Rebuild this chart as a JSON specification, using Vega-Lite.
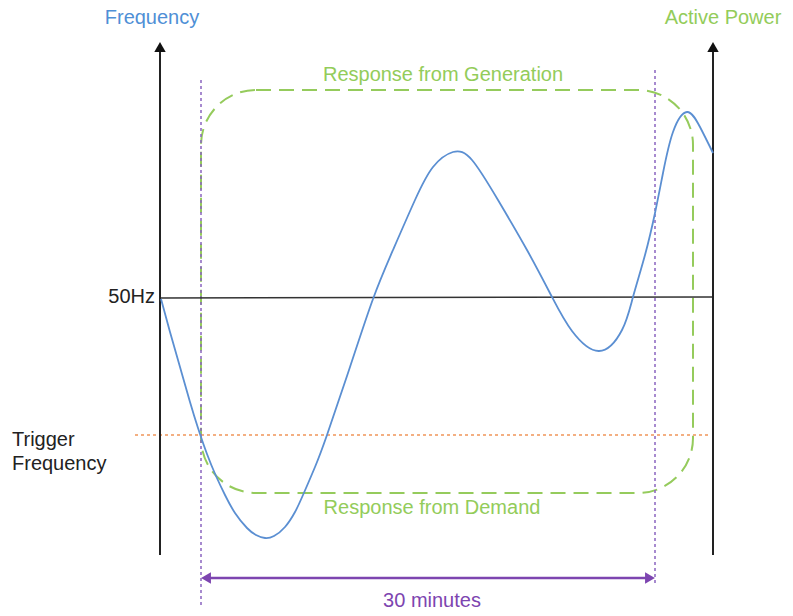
{
  "$schema": "https://vega.github.io/schema/vega-lite/v6.json",
  "width": 793,
  "height": 616,
  "autosize": {"type": "fit", "contains": "padding"},
  "padding": 0,
  "background": "white",
  "config": {"view": {"stroke": null}, "text": {"font": "Liberation Sans", "fontSize": 20}},
  "datasets": {
    "curve": [
      {"x": 161, "y": 299}, {"x": 170, "y": 332}, {"x": 180, "y": 367}, {"x": 190, "y": 402},
      {"x": 198, "y": 428}, {"x": 207, "y": 454}, {"x": 216, "y": 476}, {"x": 225, "y": 495},
      {"x": 235, "y": 513}, {"x": 247, "y": 528}, {"x": 256, "y": 535}, {"x": 265, "y": 538},
      {"x": 274, "y": 536}, {"x": 285, "y": 527}, {"x": 295, "y": 512}, {"x": 303, "y": 495},
      {"x": 315, "y": 467}, {"x": 327, "y": 435}, {"x": 350, "y": 367}, {"x": 373, "y": 299},
      {"x": 393, "y": 250}, {"x": 415, "y": 200}, {"x": 433, "y": 167}, {"x": 453, "y": 152},
      {"x": 472, "y": 160}, {"x": 498, "y": 200}, {"x": 527, "y": 250}, {"x": 552, "y": 297},
      {"x": 572, "y": 331}, {"x": 599, "y": 351}, {"x": 622, "y": 330}, {"x": 633, "y": 297},
      {"x": 645, "y": 255}, {"x": 655, "y": 213}, {"x": 663, "y": 173}, {"x": 673, "y": 132},
      {"x": 687, "y": 112}, {"x": 700, "y": 127}, {"x": 713, "y": 153}
    ],
    "box": [{"x": 201, "x2": 693, "y": 90, "y2": 493}],
    "lines": [
      {"name": "axis", "x": 160, "x2": 160, "y": 555, "y2": 50},
      {"name": "axis", "x": 713, "x2": 713, "y": 555, "y2": 50},
      {"name": "base", "x": 160, "x2": 713, "y": 298, "y2": 297},
      {"name": "trigger", "x": 135, "x2": 711, "y": 435, "y2": 435},
      {"name": "window", "x": 201, "x2": 201, "y": 80, "y2": 605},
      {"name": "window", "x": 655, "x2": 655, "y": 70, "y2": 585},
      {"name": "span", "x": 206, "x2": 650, "y": 578, "y2": 578}
    ],
    "heads": [
      {"name": "axis", "shape": "up", "x": 160, "y": 47},
      {"name": "axis", "shape": "up", "x": 713, "y": 47},
      {"name": "span", "shape": "left", "x": 206, "y": 578},
      {"name": "span", "shape": "right", "x": 650, "y": 578}
    ],
    "labels": [
      {"name": "freq", "text": "Frequency", "x": 152, "y": 18},
      {"name": "power", "text": "Active Power", "x": 723, "y": 18},
      {"name": "gen", "text": "Response from Generation", "x": 443, "y": 75},
      {"name": "dem", "text": "Response from Demand", "x": 432, "y": 508},
      {"name": "mins", "text": "30 minutes", "x": 432, "y": 601},
      {"name": "hz", "text": "50Hz", "x": 155, "y": 297},
      {"name": "trig", "text": "Trigger", "x": 12, "y": 440},
      {"name": "trig", "text": "Frequency", "x": 12, "y": 464}
    ]
  },
  "encoding": {
    "x": {"field": "x", "type": "quantitative", "scale": {"domain": [0, 793], "nice": false, "zero": false}, "axis": null},
    "y": {"field": "y", "type": "quantitative", "scale": {"domain": [0, 616], "nice": false, "zero": false, "reverse": true}, "axis": null}
  },
  "layer": [
    {
      "data": {"name": "box"},
      "mark": {"type": "rect", "cornerRadius": 55, "fill": "white", "fillOpacity": 0, "stroke": "#95cb5c", "strokeWidth": 2, "strokeDash": [15, 8]},
      "encoding": {"x2": {"field": "x2"}, "y2": {"field": "y2"}}
    },
    {
      "data": {"name": "lines"},
      "transform": [{"filter": "datum.name === 'trigger'"}],
      "mark": {"type": "rule", "stroke": "#f0955a", "strokeWidth": 1.5, "strokeDash": [3, 3]},
      "encoding": {"x2": {"field": "x2"}, "y2": {"field": "y2"}}
    },
    {
      "data": {"name": "lines"},
      "transform": [{"filter": "datum.name === 'window'"}],
      "mark": {"type": "rule", "stroke": "#8a64c0", "strokeWidth": 1.5, "strokeDash": [3, 3]},
      "encoding": {"x2": {"field": "x2"}, "y2": {"field": "y2"}}
    },
    {
      "data": {"name": "lines"},
      "transform": [{"filter": "datum.name === 'base'"}],
      "mark": {"type": "rule", "stroke": "#333333", "strokeWidth": 1.5},
      "encoding": {"x2": {"field": "x2"}, "y2": {"field": "y2"}}
    },
    {
      "data": {"name": "lines"},
      "transform": [{"filter": "datum.name === 'axis'"}],
      "mark": {"type": "rule", "stroke": "#222222", "strokeWidth": 2},
      "encoding": {"x2": {"field": "x2"}, "y2": {"field": "y2"}}
    },
    {
      "data": {"name": "lines"},
      "transform": [{"filter": "datum.name === 'span'"}],
      "mark": {"type": "rule", "stroke": "#7d45b0", "strokeWidth": 2.5},
      "encoding": {"x2": {"field": "x2"}, "y2": {"field": "y2"}}
    },
    {
      "data": {"name": "curve"},
      "mark": {"type": "line", "interpolate": "natural", "stroke": "#5b8fd2", "strokeWidth": 1.8},
      "encoding": {}
    },
    {
      "data": {"name": "heads"},
      "transform": [{"filter": "datum.name === 'axis'"}],
      "mark": {"type": "point", "shape": "triangle-up", "filled": true, "color": "#111111", "size": 130, "opacity": 1}
    },
    {
      "data": {"name": "heads"},
      "transform": [{"filter": "datum.shape === 'left'"}],
      "mark": {"type": "point", "shape": "triangle-left", "filled": true, "color": "#7d45b0", "size": 130, "opacity": 1}
    },
    {
      "data": {"name": "heads"},
      "transform": [{"filter": "datum.shape === 'right'"}],
      "mark": {"type": "point", "shape": "triangle-right", "filled": true, "color": "#7d45b0", "size": 130, "opacity": 1}
    },
    {
      "data": {"name": "labels"},
      "transform": [{"filter": "datum.name === 'freq'"}],
      "mark": {"type": "text", "align": "center", "baseline": "middle", "color": "#4f8fd6"},
      "encoding": {"text": {"field": "text"}}
    },
    {
      "data": {"name": "labels"},
      "transform": [{"filter": "indexof(['power','gen','dem'], datum.name) >= 0"}],
      "mark": {"type": "text", "align": "center", "baseline": "middle", "color": "#93cc5a"},
      "encoding": {"text": {"field": "text"}}
    },
    {
      "data": {"name": "labels"},
      "transform": [{"filter": "datum.name === 'mins'"}],
      "mark": {"type": "text", "align": "center", "baseline": "middle", "color": "#7d45b0"},
      "encoding": {"text": {"field": "text"}}
    },
    {
      "data": {"name": "labels"},
      "transform": [{"filter": "datum.name === 'hz'"}],
      "mark": {"type": "text", "align": "right", "baseline": "middle", "color": "#222222"},
      "encoding": {"text": {"field": "text"}}
    },
    {
      "data": {"name": "labels"},
      "transform": [{"filter": "datum.name === 'trig'"}],
      "mark": {"type": "text", "align": "left", "baseline": "middle", "color": "#222222"},
      "encoding": {"text": {"field": "text"}}
    }
  ]
}
